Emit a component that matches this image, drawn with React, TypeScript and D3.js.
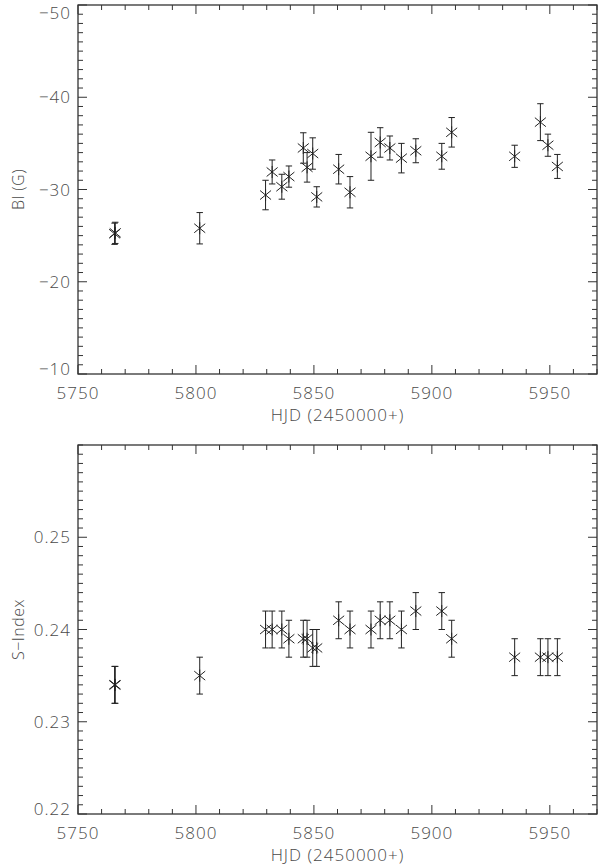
import React from "react";
import * as d3 from "d3";

const hjd = [5765.5, 5765.8, 5801.6, 5829.5, 5832.3, 5836.4, 5839.4, 5845.5, 5847.1, 5849.5, 5851.2, 5860.5, 5865.3, 5874.2, 5878.1, 5882.2, 5887.1, 5893.2, 5904.2, 5908.4, 5935.1, 5946.0, 5949.2, 5953.2];
const bl = [-25.2, -25.3, -25.8, -29.4, -31.9, -30.3, -31.4, -34.5, -32.4, -33.9, -29.2, -32.2, -29.7, -33.6, -35.1, -34.5, -33.4, -34.2, -33.6, -36.2, -33.6, -37.3, -34.8, -32.5];
const blErr = [1.15, 1.15, 1.7, 1.6, 1.3, 1.35, 1.15, 1.65, 1.6, 1.7, 1.1, 1.6, 1.7, 2.6, 1.6, 1.3, 1.6, 1.3, 1.4, 1.6, 1.2, 2.0, 1.2, 1.3];
const sIndex = [0.234, 0.234, 0.235, 0.240, 0.240, 0.240, 0.239, 0.239, 0.239, 0.238, 0.238, 0.241, 0.240, 0.240, 0.241, 0.241, 0.240, 0.242, 0.242, 0.239, 0.237, 0.237, 0.237, 0.237];
const sErr = [0.002, 0.002, 0.002, 0.002, 0.002, 0.002, 0.002, 0.002, 0.002, 0.002, 0.002, 0.002, 0.002, 0.002, 0.002, 0.002, 0.002, 0.002, 0.002, 0.002, 0.002, 0.002, 0.002, 0.002];

const xMajor = [5750, 5800, 5850, 5900, 5950];
const blMajor = [-50, -40, -30, -20, -10];
const sMajor = [0.22, 0.23, 0.24, 0.25];

const W = 600, H = 868;
const LEFT = 78, RIGHT = 597;
const FONT = "'Open Sans', 'DejaVu Sans', sans-serif";
const INK = "#333";
const TXT = "#4a4a4a";

type PanelProps = {
  top: number; bottom: number;
  yDomain: [number, number];
  yMajor: number[]; yMinorStep: number;
  yFmt: (v: number) => string;
  values: number[]; errs: number[];
  yTitle: string;
};

function Panel(p: PanelProps) {
  const x = d3.scaleLinear().domain([5750, 5970]).range([LEFT, RIGHT]);
  const y = d3.scaleLinear().domain(p.yDomain).range([p.bottom, p.top]);
  const xMinor = d3.range(5750, 5971, 10).filter(v => !xMajor.includes(v));
  const [y0, y1] = p.yDomain;
  const lo = Math.min(y0, y1), hi = Math.max(y0, y1);
  const nMinor = Math.round((hi - lo) / p.yMinorStep);
  const yMinor = d3.range(0, nMinor + 1).map(i => lo + i * p.yMinorStep)
    .filter(v => !p.yMajor.some(m => Math.abs(m - v) < p.yMinorStep / 10));
  const MAJ = 9, MIN = 5;
  const cx = (LEFT + RIGHT) / 2;
  const cy = (p.top + p.bottom) / 2;
  return (
    <g>
      <rect x={LEFT} y={p.top} width={RIGHT - LEFT} height={p.bottom - p.top} fill="none" stroke={INK} strokeWidth={1.3} />
      {xMajor.map(v => (
        <g key={"xM" + v}>
          <line x1={x(v)} x2={x(v)} y1={p.bottom} y2={p.bottom - MAJ} stroke={INK} />
          <line x1={x(v)} x2={x(v)} y1={p.top} y2={p.top + MAJ} stroke={INK} />
          <text x={x(v)} y={p.bottom + 25} textAnchor="middle" fontSize={17} letterSpacing={1} fill={TXT} fontFamily={FONT} fontWeight={300}>{v}</text>
        </g>
      ))}
      {xMinor.map(v => (
        <g key={"xm" + v}>
          <line x1={x(v)} x2={x(v)} y1={p.bottom} y2={p.bottom - MIN} stroke={INK} />
          <line x1={x(v)} x2={x(v)} y1={p.top} y2={p.top + MIN} stroke={INK} />
        </g>
      ))}
      {p.yMajor.map(v => (
        <g key={"yM" + v}>
          <line x1={LEFT} x2={LEFT + MAJ} y1={y(v)} y2={y(v)} stroke={INK} />
          <line x1={RIGHT} x2={RIGHT - MAJ} y1={y(v)} y2={y(v)} stroke={INK} />
          <text x={71} y={Math.min(Math.max(y(v) + 6, p.top + 14), p.bottom + 1)} textAnchor="end" fontSize={17} letterSpacing={1} fill={TXT} fontFamily={FONT} fontWeight={300}>{p.yFmt(v)}</text>
        </g>
      ))}
      {yMinor.map(v => (
        <g key={"ym" + v}>
          <line x1={LEFT} x2={LEFT + MIN} y1={y(v)} y2={y(v)} stroke={INK} />
          <line x1={RIGHT} x2={RIGHT - MIN} y1={y(v)} y2={y(v)} stroke={INK} />
        </g>
      ))}
      <text x={cx} y={p.bottom + 47} textAnchor="middle" fontSize={17} letterSpacing={1} fill={TXT} fontFamily={FONT} fontWeight={300}>HJD (2450000+)</text>
      <text transform={`translate(24,${cy}) rotate(-90)`} textAnchor="middle" fontSize={16} letterSpacing={0.5} fill={TXT} fontFamily={FONT} fontWeight={300}>{p.yTitle}</text>
      {hjd.map((t, i) => {
        const px = x(t);
        const py = y(p.values[i]);
        const ya = y(p.values[i] - p.errs[i]);
        const yb = y(p.values[i] + p.errs[i]);
        const c = 3.2;
        return (
          <g key={"pt" + i} stroke="#222" strokeWidth={1}>
            <line x1={px} x2={px} y1={ya} y2={yb} />
            <line x1={px - c} x2={px + c} y1={ya} y2={ya} />
            <line x1={px - c} x2={px + c} y1={yb} y2={yb} />
            <line x1={px - 5.5} x2={px + 5.5} y1={py - 4.5} y2={py + 4.5} />
            <line x1={px - 5.5} x2={px + 5.5} y1={py + 4.5} y2={py - 4.5} />
            <line x1={px} x2={px} y1={py - 6} y2={py + 6} />
          </g>
        );
      })}
    </g>
  );
}

export default function App() {
  return (
    <svg width={W} height={H} style={{ position: "absolute", left: 0, top: 0, background: "#fff" }}>
      <rect width={W} height={H} fill="#fff" />
      <Panel top={5} bottom={374} yDomain={[-10, -50]} yMajor={blMajor} yMinorStep={1}
        yFmt={v => d3.format("d")(v).replace("-", "−")} values={bl} errs={blErr} yTitle="Bl (G)" />
      <Panel top={445} bottom={814} yDomain={[0.22, 0.26]} yMajor={sMajor} yMinorStep={0.001}
        yFmt={v => d3.format(".2f")(v)} values={sIndex} errs={sErr} yTitle="S−Index" />
    </svg>
  );
}
